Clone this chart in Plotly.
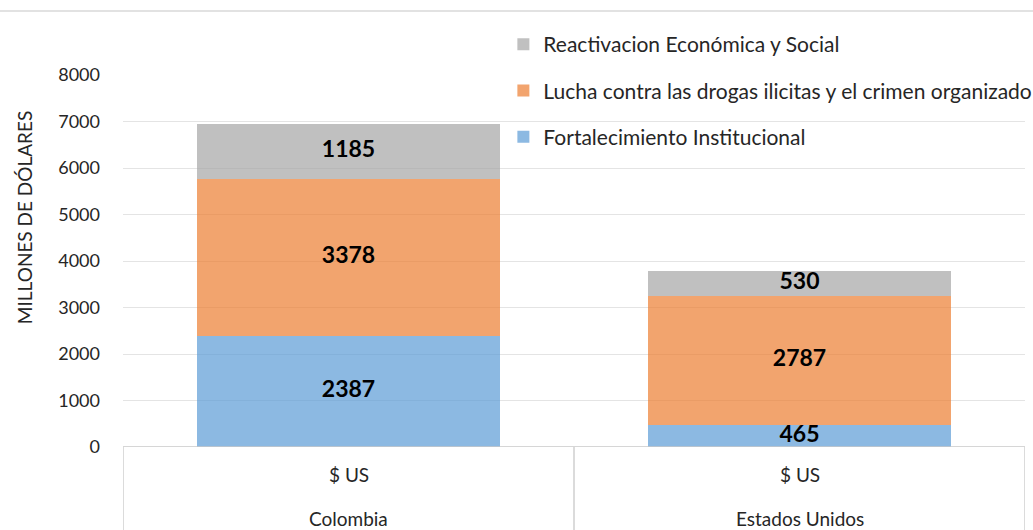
import plotly.graph_objects as go

countries = ["Colombia", "Estados Unidos"]
sub_label = "$ US"
series_names = [
    "Fortalecimiento Institucional",
    "Lucha contra las drogas ilicitas y el crimen organizado",
    "Reactivacion Económica y Social",
]
fortalecimiento = [2387, 465]
lucha = [3378, 2787]
reactivacion = [1185, 530]
colors = ["rgba(91,155,213,0.7)", "rgba(237,125,49,0.7)", "rgba(165,165,165,0.7)"]
y_ticks = [0, 1000, 2000, 3000, 4000, 5000, 6000, 7000, 8000]

series = [fortalecimiento, lucha, reactivacion]
FONT = "Lato"
TXT = "#262626"

fig = go.Figure()
for i, (name, vals) in enumerate(zip(series_names, series)):
    fig.add_trace(go.Bar(
        x=countries, y=vals, name=name, marker=dict(color=colors[i], line=dict(width=0)),
        width=0.67, legendgroup=f"g{i}", legendrank=len(series) - i, hoverinfo="skip",
    ))

# labels at the middle of each stacked segment
for i, vals in enumerate(series):
    base = [sum(s[j] for s in series[:i]) for j in range(len(countries))]
    mids = [b + v / 2 for b, v in zip(base, vals)]
    fig.add_trace(go.Scatter(
        x=countries, y=mids, mode="text", text=[str(v) for v in vals],
        textfont=dict(family=FONT, size=23, color="#000000", weight="bold"),
        showlegend=False, hoverinfo="skip",
    ))

fig.update_layout(
    barmode="stack",
    width=1033, height=530,
    margin=dict(l=123, r=8, t=75, b=83, autoexpand=False),
    paper_bgcolor="white", plot_bgcolor="white",
    font=dict(family=FONT, size=18, color=TXT),
    showlegend=True,
    legend=dict(
        x=0.4217, y=1.137, xanchor="left", yanchor="top",
        traceorder="grouped", tracegroupgap=16,
        font=dict(family=FONT, size=21, color=TXT),
        bgcolor="rgba(0,0,0,0)", itemwidth=30,
    ),
    xaxis=dict(
        type="category", showticklabels=False, showgrid=False, zeroline=False,
        showline=False, range=[-0.5, 1.5], fixedrange=True,
    ),
    yaxis=dict(
        range=[0, 8000], tickvals=y_ticks, showgrid=True, gridcolor="#E4E4E4",
        gridwidth=1, zeroline=False, showline=False, ticks="",
        ticklabelstandoff=22, tickfont=dict(family=FONT, size=18, color=TXT),
        fixedrange=True,
    ),
)

# y-axis title
fig.add_annotation(
    text="MILLONES DE DÓLARES", textangle=-90, xref="paper", yref="paper",
    x=-0.109, y=0.617, xanchor="center", yanchor="middle", showarrow=False,
    font=dict(family=FONT, size=19, color=TXT),
)

# multi-level category labels
for c in countries:
    fig.add_annotation(text=sub_label, x=c, xref="x", y=-0.073, yref="paper",
                       showarrow=False, yanchor="middle",
                       font=dict(family=FONT, size=19, color=TXT))
    fig.add_annotation(text=c, x=c, xref="x", y=-0.191, yref="paper",
                       showarrow=False, yanchor="middle",
                       font=dict(family=FONT, size=19, color=TXT))

# axis line and dividers
line_col = "#C8C8C8"
fig.add_shape(type="line", xref="x", yref="y", x0=-0.5, x1=1.5, y0=0, y1=0,
              line=dict(color=line_col, width=1.3))
for xv in [-0.5, 0.5, 1.5]:
    fig.add_shape(type="line", xref="x", yref="paper", x0=xv, x1=xv, y0=0, y1=-0.25,
                  line=dict(color=line_col, width=1.3))

# top border of chart area
fig.add_shape(type="line", xref="paper", yref="paper", x0=-0.14, x1=1.01, y0=1.172, y1=1.172,
              line=dict(color="#D9D9D9", width=1.5))

fig.write_html("out.html", config={"displayModeBar": False},
               post_script="document.body.style.margin='0px';document.body.style.overflow='hidden';")
